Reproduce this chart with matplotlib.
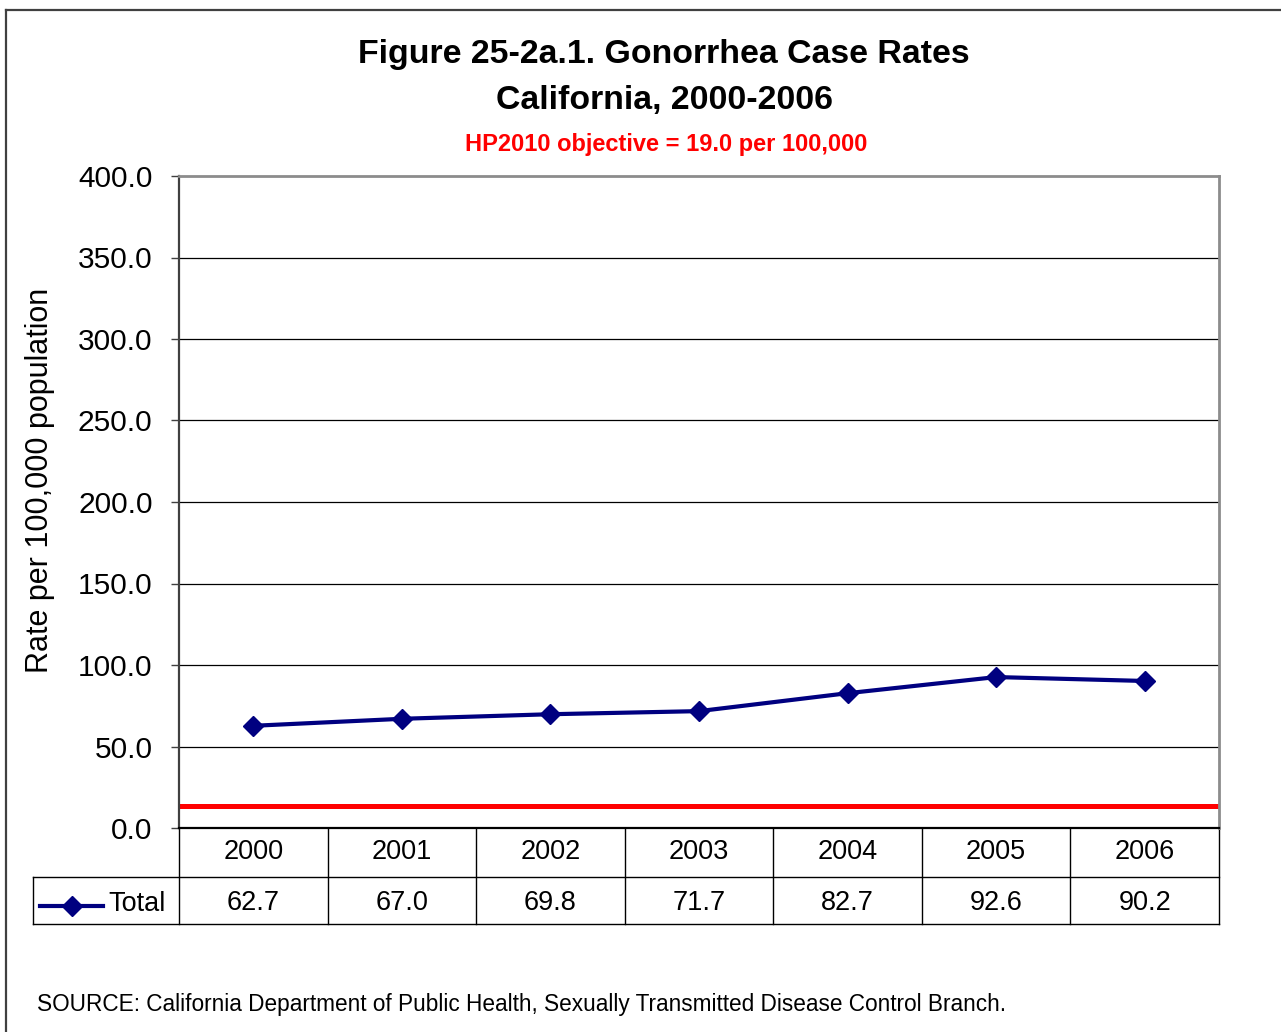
import matplotlib
matplotlib.use("Agg")
import matplotlib.pyplot as plt
from matplotlib.lines import Line2D

plt.rcParams['font.family'] = ['Liberation Sans', 'DejaVu Sans']

# datos
years = ['2000', '2001', '2002', '2003', '2004', '2005', '2006']
total_rates = [62.7, 67.0, 69.8, 71.7, 82.7, 92.6, 90.2]
value_labels = ['62.7', '67.0', '69.8', '71.7', '82.7', '92.6', '90.2']
hp2010_drawn = 13.6          # posicion de la linea roja tal como se ve
y_ticks = [0, 50, 100, 150, 200, 250, 300, 350, 400]

W, H = 1281, 1032
fig = plt.figure(figsize=(W / 100, H / 100), dpi=100)
fig.patch.set_facecolor('white')

# area de trazado (en pixeles de la imagen)
left_px, right_px, top_px, bottom_px = 179, 1219, 176, 828
ax = fig.add_axes([left_px / W, 1 - bottom_px / H,
                   (right_px - left_px) / W, (bottom_px - top_px) / H])

x = list(range(len(years)))
ax.set_xlim(-0.5, len(years) - 0.5)
ax.set_ylim(0, 400)

# rejilla
for v in y_ticks[1:-1]:
    ax.axhline(v, color='black', lw=0.9, zorder=1)

# linea del objetivo HP2010
ax.axhline(hp2010_drawn, color='#ff0000', lw=3.6, zorder=2)

# serie Total
ax.plot(x, total_rates, color='#000080', lw=3, marker='D', markersize=10.5,
        markerfacecolor='#000080', markeredgecolor='#000080', zorder=3)

ax.set_yticks(y_ticks)
ax.set_yticklabels([f'{v:.1f}' for v in y_ticks], fontsize=21.5)
ax.set_xticks([])
ax.tick_params(axis='y', direction='out', length=6, width=1, color='#404040', pad=13)
ax.set_ylabel('Rate per 100,000 population', fontsize=22)
ax.yaxis.set_label_coords(-(left_px - 55) / (right_px - left_px), 0.533)

ax.spines['left'].set_color('#404040')
ax.spines['left'].set_linewidth(1.6)
ax.spines['bottom'].set_color('black')
ax.spines['bottom'].set_linewidth(1.6)
for s in ('top', 'right'):
    ax.spines[s].set_color('#8c8c8c')
    ax.spines[s].set_linewidth(2)

# --- tabla de datos debajo del eje ---
plot_h = bottom_px - top_px
px_per_x = (right_px - left_px) / len(years)
r1 = -(877 - bottom_px) / plot_h
r2 = -(924 - bottom_px) / plot_h
x_tab_left = -0.5 - (left_px - 33) / px_per_x
tr = ax.get_xaxis_transform()

def ypx(p):
    return -(p - bottom_px) / plot_h

def tline(xs, ys, **kw):
    ax.add_line(Line2D(xs, ys, transform=tr, clip_on=False, color='black',
                       lw=1, **kw))

tline([x_tab_left, len(years) - 0.5], [r1, r1])
tline([x_tab_left, len(years) - 0.5], [r2, r2])
tline([x_tab_left, x_tab_left], [r1, r2])
for i in range(len(years) + 1):
    xb = i - 0.5
    tline([xb, xb], [0, r2])

for i, (yr, val) in enumerate(zip(years, value_labels)):
    ax.text(i, ypx(852), yr, transform=tr, ha='center', va='center', fontsize=19.5)
    ax.text(i, ypx(903), val, transform=tr, ha='center', va='center',
            fontsize=19.5)

# clave de la serie en la tabla
leg_y = ypx(906)
lx0 = -0.5 - (left_px - 40) / px_per_x
lx1 = -0.5 - (left_px - 103) / px_per_x
lxm = -0.5 - (left_px - 72) / px_per_x
ax.add_line(Line2D([lx0, lx1], [leg_y, leg_y], transform=tr, clip_on=False,
                   color='#000080', lw=3))
ax.add_line(Line2D([lxm], [leg_y], transform=tr, clip_on=False, marker='D',
                   markersize=10.5, color='#000080', lw=0))
ax.text(-0.5 - (left_px - 108) / px_per_x, ypx(904), 'Total', transform=tr,
        ha='left', va='center', fontsize=19.5)

# titulos
fig.text(664 / W, 1 - 55 / H, 'Figure 25-2a.1. Gonorrhea Case Rates',
         ha='center', va='center', fontsize=24.4, fontweight='bold')
fig.text(664 / W, 1 - 100 / H, 'California, 2000-2006',
         ha='center', va='center', fontsize=24.4, fontweight='bold')
fig.text(666 / W, 1 - 144 / H, 'HP2010 objective = 19.0 per 100,000',
         ha='center', va='center', fontsize=17, fontweight='bold', color='#ff0000')

fig.text(37 / W, 1 - 1005 / H,
         'SOURCE: California Department of Public Health, Sexually Transmitted Disease Control Branch.',
         ha='left', va='center', fontsize=16.3)

# borde exterior del grafico
fig.add_artist(Line2D([6 / W, 6 / W], [0, 1 - 10 / H], transform=fig.transFigure,
                      color='#404040', lw=1.6))
fig.add_artist(Line2D([6 / W, 1], [1 - 10 / H, 1 - 10 / H], transform=fig.transFigure,
                      color='#404040', lw=1.6))

fig.savefig('out.png', dpi=100)
